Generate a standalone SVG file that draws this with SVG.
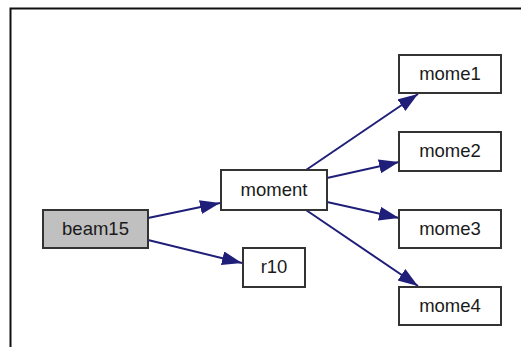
<svg xmlns="http://www.w3.org/2000/svg" width="521" height="347" viewBox="0 0 521 347">
<defs>
<style>
.node rect{fill:#ffffff;stroke:#333333;stroke-width:2}
.node.gray rect{fill:#c0c0c0}
.node text{font-family:"Liberation Sans",Arial,sans-serif;font-size:18.5px;fill:#1a1a1a;text-anchor:middle;dominant-baseline:central}
.edge{stroke:#1f1f7a;stroke-width:2;fill:none;marker-end:url(#arr)}
</style>
<marker id="arr" markerUnits="userSpaceOnUse" markerWidth="22" markerHeight="16" refX="20" refY="7" orient="auto" viewBox="0 0 22 16">
<path d="M0,0 L20,7 L0,14 Z" fill="#1f1f7a"/>
</marker>
</defs>
<rect x="0" y="0" width="521" height="347" fill="#ffffff"/>
<path d="M10.5,347 L10.5,8.5 L521,8.5" fill="none" stroke="#111111" stroke-width="2"/>
<g id="connectors">
<line class="edge" x1="148" y1="218" x2="220" y2="203"/>
<line class="edge" x1="148" y1="240" x2="242" y2="263"/>
<line class="edge" x1="306" y1="170" x2="418" y2="94"/>
<line class="edge" x1="327" y1="178" x2="399" y2="162"/>
<line class="edge" x1="327" y1="202" x2="399" y2="218"/>
<line class="edge" x1="306" y1="210" x2="418" y2="286"/>
</g>
<g id="beam15" class="node gray"><rect x="43" y="210" width="105" height="38"/><text x="95.5" y="228">beam15</text></g>
<g id="moment" class="node"><rect x="221" y="170" width="106" height="40"/><text x="274" y="189">moment</text></g>
<g id="r10" class="node"><rect x="243" y="248" width="62" height="39"/><text x="274" y="266.5">r10</text></g>
<g id="mome1" class="node"><rect x="399" y="55" width="102" height="38"/><text x="450" y="73">mome1</text></g>
<g id="mome2" class="node"><rect x="399" y="132" width="102" height="39"/><text x="450" y="150.5">mome2</text></g>
<g id="mome3" class="node"><rect x="399" y="210" width="102" height="38"/><text x="450" y="228">mome3</text></g>
<g id="mome4" class="node"><rect x="399" y="287" width="102" height="38"/><text x="450" y="305">mome4</text></g>
</svg>
